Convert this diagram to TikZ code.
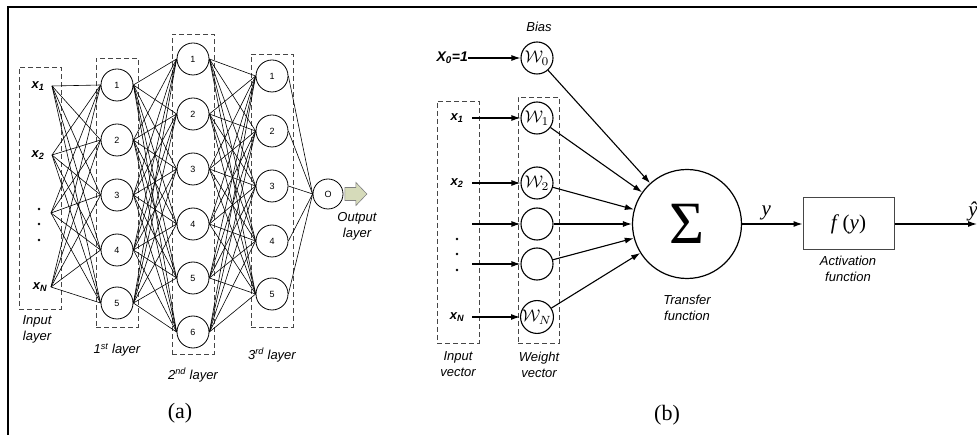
\documentclass[tikz,border=0pt]{standalone}
\usepackage{graphicx}
\usepackage{fontspec}
\setmainfont{Liberation Serif}
\setsansfont{Liberation Sans}
\usetikzlibrary{arrows.meta}
\definecolor{arrowfill}{RGB}{214,219,186}
\definecolor{dashgray}{RGB}{70,70,70}
\newcommand{\wsym}[1]{\scalebox{1.7}{$\mathcal{W}_{#1}$}}
\tikzset{
  neuron/.style={circle, draw, line width=0.8pt, minimum size=32pt, inner sep=0pt, font=\sffamily\fontsize{9}{9}\selectfont},
  wnode/.style={circle, draw, line width=1.1pt, minimum size=32pt, inner sep=0pt},
  dbox/.style={draw=dashgray, dashed, dash pattern=on 5pt off 3pt, line width=0.8pt, inner sep=0pt},
  conn/.style={line width=0.6pt},
  arr/.style={line width=1.1pt, -{Latex[length=9pt,width=6pt]}},
  lbl/.style={font=\sffamily\itshape\fontsize{13}{16}\selectfont, align=center, inner sep=0pt},
  inlbl/.style={font=\sffamily\bfseries\itshape\fontsize{13}{13}\selectfont, inner sep=0pt},
  captext/.style={font=\fontsize{22}{22}\selectfont, inner sep=0pt},
  mathlbl/.style={font=\fontsize{21}{21}\selectfont, inner sep=0pt},
}
\begin{document}
\begin{tikzpicture}[x=1pt,y=-1pt]
\useasboundingbox (0,0) rectangle (977,435);
% frame
\draw[line width=2.6pt] (8,435) -- (8,7) -- (977,7);

% ---------------- panel (a) ----------------
\node[dbox, minimum width=42pt, minimum height=242pt] (inbox) at (40,188) {};
\node[dbox, minimum width=42pt, minimum height=269pt] (l1box) at (117,192.5) {};
\node[dbox, minimum width=42pt, minimum height=320pt] (l2box) at (193,194) {};
\node[dbox, minimum width=42pt, minimum height=273pt] (l3box) at (272,190.5) {};

% inputs
\node[inlbl] (x1) at (38,86) {x\textsubscript{1}};
\node[inlbl] (x2) at (38,155) {x\textsubscript{2}};
\node[inlbl] (xN) at (40,287) {x\textsubscript{N}};
\coordinate (i1) at (52,86);
\coordinate (i2) at (52,155);
\coordinate (i3) at (51,213);
\coordinate (i4) at (51,287);
\foreach \y [count=\k] in {209,224,240} \node[circle, fill, inner sep=0.9pt] (ad\k) at (39,\y) {};

% layer 1
\foreach \y [count=\k] in {85,140,195,250,303} \node[neuron] (a\k) at (117,\y) {\k};
% layer 2
\foreach \y [count=\k] in {59,114,169,224,278,332} \node[neuron] (b\k) at (193,\y) {\k};
% layer 3
\foreach \y [count=\k] in {76,131,186,241,294} \node[neuron] (c\k) at (272,\y) {\k};
% output
\node[neuron, minimum size=30pt] (O) at (328,194) {O};

% connections
\foreach \i in {1,...,4} \foreach \j in {1,...,5} \draw[conn] (i\i) -- (a\j.west);
\foreach \i in {1,...,5} \foreach \j in {1,...,6} \draw[conn] (a\i.east) -- (b\j.west);
\foreach \i in {1,...,6} \foreach \j in {1,...,5} \draw[conn] (b\i.east) -- (c\j.west);
\foreach \i in {1,...,5} \draw[conn] (c\i.east) -- (O.west);

% fat output arrow
\draw[draw=gray, fill=arrowfill, line width=0.6pt]
  ([xshift=1.5pt,yshift=6.5pt]O.east) -- ++(11,0) -- ++(0,-5) -- ++(11,11.5) -- ++(-11,11.5) -- ++(0,-5) -- ++(-11,0) -- cycle;

\node[lbl] (inlab) at (37,329) {Input\\layer};
\node[lbl] (l1lab) at (117,350) {1\textsuperscript{st} layer};
\node[lbl] (l2lab) at (193,375) {2\textsuperscript{nd} layer};
\node[lbl] (l3lab) at (272,355) {3\textsuperscript{rd} layer};
\node[lbl] (outlab) at (357,226) {Output\\layer};
\node[captext] (capa) at (180,413) {(a)};

% ---------------- panel (b) ----------------
\node[dbox, minimum width=42pt, minimum height=242pt] (ivbox) at (458,222) {};
\node[dbox, minimum width=41pt, minimum height=246pt] (wvbox) at (538.5,220) {};

\node[lbl] (bias) at (539,27) {Bias};
\node[inlbl, anchor=east, font=\sffamily\bfseries\itshape\fontsize{14}{14}\selectfont] (x0) at (468,58) {X\textsubscript{0}=1};
\node[wnode] (w0) at (537,58) {\wsym{0}};
\node[wnode] (w1) at (537,118) {\wsym{1}};
\node[wnode] (w2) at (537,183) {\wsym{2}};
\node[wnode] (we1) at (537,224) {};
\node[wnode] (we2) at (537,264) {};
\node[wnode] (wN) at (537,317) {\wsym{N}};

\node[inlbl] (bx1) at (457,118) {x\textsubscript{1}};
\node[inlbl] (bx2) at (457,183) {x\textsubscript{2}};
\node[inlbl] (bxN) at (457,317) {x\textsubscript{N}};
\foreach \y [count=\k] in {239,254,270} \node[circle, fill, inner sep=0.9pt] (bd\k) at (457,\y) {};
\coordinate (s1) at (472,118);
\coordinate (s2) at (472,183);
\coordinate (s3) at (472,224);
\coordinate (s4) at (472,264);
\coordinate (s5) at (472,317);

\draw[arr] (x0) -- (w0);
\draw[arr] (s1) -- (w1);
\draw[arr] (s2) -- (w2);
\draw[arr] (s3) -- (we1);
\draw[arr] (s4) -- (we2);
\draw[arr] (s5) -- (wN);

\node[circle, draw, line width=1.2pt, minimum size=109pt, inner sep=0pt] (sum) at (687,224) {\fontsize{60}{60}\selectfont Σ};
\foreach \n in {w0,w1,w2,we1,we2,wN} \draw[arr] (\n) -- (sum);

\node[draw=dashgray, line width=1pt, minimum width=91pt, minimum height=52pt, inner sep=0pt, mathlbl] (act) at (848.5,224) {\textit{f}\,(\textit{y})};
\draw[arr] (sum) -- (act) node[pos=0.4, above=3pt, mathlbl] (ylab) {\textit{y}};
\coordinate (yend) at (977,224);
\draw[arr] (act) -- (yend);
\node[mathlbl] (yhat) at (973,211) {\textit{ŷ}};

\node[lbl] (tflab) at (687,308) {Transfer\\function};
\node[lbl] (aflab) at (848,269) {Activation\\function};
\node[lbl] (ivlab) at (458,364) {Input\\vector};
\node[lbl] (wvlab) at (539,365) {Weight\\vector};
\node[captext] (capb) at (667,415) {(b)};
\end{tikzpicture}
\end{document}
